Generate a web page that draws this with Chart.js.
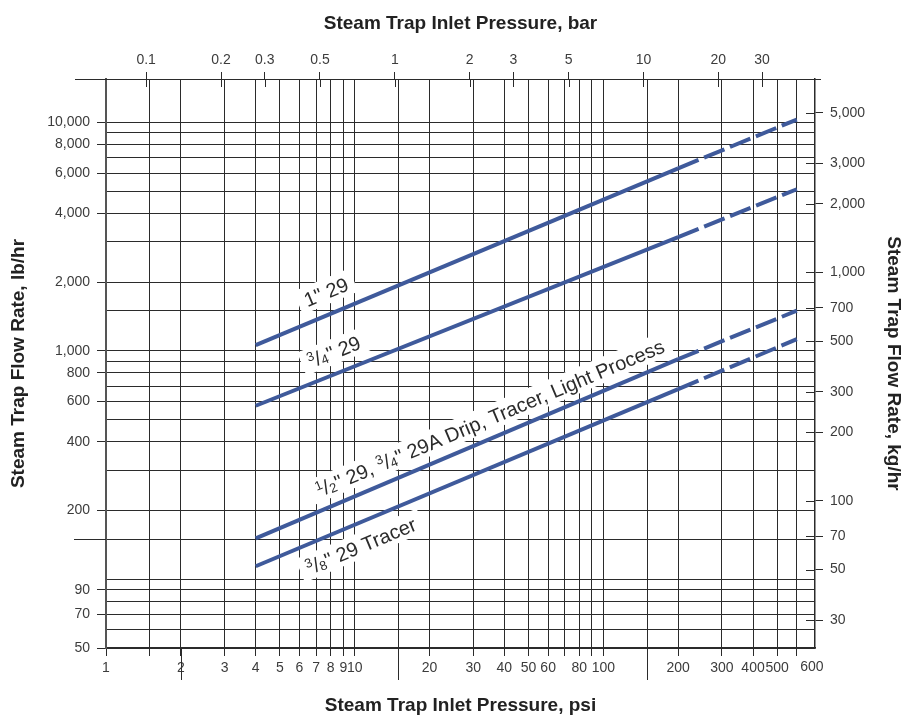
<!DOCTYPE html>
<html>
<head>
<meta charset="utf-8">
<script src="https://cdn.jsdelivr.net/npm/chart.js@4.4.1/dist/chart.umd.min.js"></script>
<style>
  body { margin: 0; background: #fff; }
</style>
</head>
<body>
<canvas id="chart" width="907" height="717"></canvas>
<script>
// flow capacity, at 4, 200 and 600 psi
const pressurePsi = [4, 200, 600];
const flow1in = [1060, 6300, 10300];
const flow34in = [575, 3150, 5100];
const flow12in = [151, 920, 1500];
const flow38in = [114, 680, 1125];

// axis ticks
const psiTicks = [1, 1.5, 2, 3, 4, 5, 6, 7, 8, 9, 10, 15, 20, 30, 40, 50, 60, 70, 80, 90, 100, 150, 200, 300, 400, 500, 600];
const psiLabels = [1, 2, 3, 4, 5, 6, 7, 8, 9, 10, 20, 30, 40, 50, 60, 80, 100, 200, 300, 400, 500];
const psiLast = 600; // drawn nudged right, as on the original
const psiLong = [2, 15, 150];
const barTicks = [0.1, 0.2, 0.3, 0.5, 1, 2, 3, 5, 10, 20, 30];
const lbTicks = [50, 60, 70, 80, 90, 100, 150, 200, 300, 400, 500, 600, 700, 800, 900, 1000, 1500, 2000, 3000, 4000, 5000, 6000, 7000, 8000, 9000, 10000];
const lbLabels = [50, 70, 90, 200, 400, 600, 800, 1000, 2000, 4000, 6000, 8000, 10000];
const lbLong = [150];
const kgTicks = [30, 50, 70, 100, 200, 300, 500, 700, 1000, 2000, 3000, 5000];

const PSI_PER_BAR = 14.5038;
const LB_PER_KG = 2.20462;
const psiMin = 1, psiMax = 710;
const lbMin = 50, lbMax = 15500;

const blue = '#3f5a9b';
const ink = '#2b2b2b';
const tickInk = '#3c3c3c';
const FONT = '"Liberation Sans", Arial, sans-serif';

// text on the lines; 'n' / 'd' = small numerator / denominator
const lineLabels = [
  { series: 0, at: [7.67, 1810], parts: [['1" 29']] },
  { series: 1, at: [8.26, 990], parts: [['3', 'n'], ['/'], ['4', 'd'], ['" 29']] },
  { series: 2, at: [35, 508], parts: [['1', 'n'], ['/'], ['2', 'd'], ['" 29, '], ['3', 'n'], ['/'], ['4', 'd'], ['" 29A Drip, Tracer, Light Process']] },
  { series: 3, at: [10.6, 140], parts: [['3', 'n'], ['/'], ['8', 'd'], ['" 29 Tracer']] }
];

function series(values) {
  return {
    data: pressurePsi.map((p, i) => ({ x: p, y: values[i] })),
    borderColor: blue,
    borderWidth: 4,
    borderCapStyle: 'butt',
    pointRadius: 0,
    segment: {
      borderDash: c => (c.p0DataIndex >= 1 ? [22, 6] : undefined)
    }
  };
}

function fixTicks(list) {
  return s => { s.ticks = list.map(v => ({ value: v })); };
}

function comma(v) {
  return Number(v).toLocaleString('en-US');
}

const labelPlugin = {
  id: 'lineLabels',
  beforeDatasetsDraw(chart) {
    const { ctx, scales: { x, y } } = chart;
    lineLabels.forEach(l => {
      const d = chart.data.datasets[l.series].data;
      const a = d[0], b = d[d.length - 1];
      const ang = Math.atan2(y.getPixelForValue(b.y) - y.getPixelForValue(a.y),
                             x.getPixelForValue(b.x) - x.getPixelForValue(a.x));
      const cx = x.getPixelForValue(l.at[0]);
      const cy = y.getPixelForValue(l.at[1]);
      const big = '20px ' + FONT, small = '13px ' + FONT;
      ctx.save();
      let w = 0;
      const widths = l.parts.map(p => {
        ctx.font = p[1] ? small : big;
        const m = ctx.measureText(p[0]).width;
        w += m;
        return m;
      });
      ctx.translate(cx, cy);
      ctx.rotate(ang);
      ctx.fillStyle = '#fff';
      ctx.fillRect(-w / 2 - 7, -13, w + 14, 25);
      ctx.fillStyle = ink;
      ctx.textBaseline = 'alphabetic';
      let px = -w / 2;
      l.parts.forEach((p, i) => {
        ctx.font = p[1] ? small : big;
        const base = p[1] === 'n' ? 0 : p[1] === 'd' ? 8 : 7;
        ctx.fillText(p[0], px, base);
        px += widths[i];
      });
      ctx.restore();
    });
  }
};

const axisPlugin = {
  id: 'axisMarks',
  afterDraw(chart) {
    const { ctx, chartArea: area, scales: { x, y, x2, y2 } } = chart;
    ctx.save();
    ctx.strokeStyle = ink;
    ctx.lineWidth = 1;
    ctx.beginPath();
    // top rule runs a little past the frame
    ctx.moveTo(75, area.top + 0.5);
    ctx.lineTo(821, area.top + 0.5);
    // long marks under the psi axis
    psiLong.forEach(v => {
      const px = Math.round(x.getPixelForValue(v)) + 0.5;
      ctx.moveTo(px, area.bottom);
      ctx.lineTo(px, area.bottom + 32);
    });
    lbLong.forEach(v => {
      const py = Math.round(y.getPixelForValue(v)) + 0.5;
      ctx.moveTo(74, py);
      ctx.lineTo(area.left, py);
    });
    // bar and kg/hr ticks cross the frame
    barTicks.forEach(v => {
      const px = Math.round(x2.getPixelForValue(v)) + 0.5;
      ctx.moveTo(px, area.top);
      ctx.lineTo(px, area.top + 8);
    });
    kgTicks.forEach(v => {
      const py = Math.round(y2.getPixelForValue(v)) + 0.5;
      ctx.moveTo(area.right - 9, py);
      ctx.lineTo(area.right, py);
    });
    ctx.stroke();
    // last psi label sits right of its tick
    ctx.fillStyle = tickInk;
    ctx.font = '14px ' + FONT;
    ctx.textAlign = 'center';
    ctx.textBaseline = 'top';
    ctx.fillText(String(psiLast), x.getPixelForValue(psiLast) + 15, area.bottom + 12);
    ctx.restore();
  }
};

const tickFont = { family: FONT, size: 14 };
const titleFont = { family: FONT, size: 19, weight: 'bold' };

new Chart(document.getElementById('chart'), {
  type: 'line',
  data: {
    datasets: [series(flow1in), series(flow34in), series(flow12in), series(flow38in)]
  },
  options: {
    responsive: false,
    animation: false,
    devicePixelRatio: 1,
    layout: { padding: 0 },
    plugins: {
      legend: { display: false },
      tooltip: { enabled: false }
    },
    scales: {
      x: {
        type: 'logarithmic',
        position: 'bottom',
        min: psiMin,
        max: psiMax,
        afterBuildTicks: fixTicks(psiTicks),
        afterFit: s => { s.height = 69; },
        ticks: {
          autoSkip: false,
          maxRotation: 0,
          padding: 4,
          color: tickInk,
          font: tickFont,
          callback: v => (psiLabels.includes(v) ? String(v) : '')
        },
        grid: { color: ink, lineWidth: 1, tickLength: 8, tickColor: ink },
        border: { color: ink, width: 1.5 },
        title: {
          display: true,
          text: 'Steam Trap Inlet Pressure, psi',
          color: '#222',
          font: titleFont,
          padding: { top: 0, bottom: 0 }
        }
      },
      x2: {
        type: 'logarithmic',
        position: 'top',
        min: psiMin / PSI_PER_BAR,
        max: psiMax / PSI_PER_BAR,
        afterBuildTicks: fixTicks(barTicks),
        afterFit: s => { s.height = 79; },
        ticks: {
          autoSkip: false,
          maxRotation: 0,
          padding: 3,
          color: tickInk,
          font: tickFont,
          callback: v => String(v)
        },
        grid: { drawOnChartArea: false, tickLength: 7, tickColor: ink },
        border: { color: ink, width: 1 },
        title: {
          display: true,
          text: 'Steam Trap Inlet Pressure, bar',
          color: '#222',
          font: titleFont,
          padding: { top: 12, bottom: 0 }
        }
      },
      y: {
        type: 'logarithmic',
        position: 'left',
        min: lbMin,
        max: lbMax,
        afterBuildTicks: fixTicks(lbTicks),
        afterFit: s => { s.width = 106; },
        ticks: {
          autoSkip: false,
          padding: 7,
          color: tickInk,
          font: tickFont,
          callback: v => (lbLabels.includes(v) ? comma(v) : '')
        },
        grid: {
          color: ink,
          lineWidth: 1,
          tickLength: 9,
          tickColor: c => (c.tick && lbLabels.includes(c.tick.value) ? ink : 'rgba(0,0,0,0)')
        },
        border: { color: '#555', width: 2 },
        title: {
          display: true,
          text: 'Steam Trap Flow Rate, lb/hr',
          color: '#222',
          font: titleFont,
          padding: { top: 7, bottom: 0 }
        }
      },
      y2: {
        type: 'logarithmic',
        position: 'right',
        min: lbMin / LB_PER_KG,
        max: lbMax / LB_PER_KG,
        afterBuildTicks: fixTicks(kgTicks),
        afterFit: s => { s.width = 92; },
        ticks: {
          autoSkip: false,
          padding: 7,
          color: tickInk,
          font: tickFont,
          callback: v => comma(v)
        },
        grid: { drawOnChartArea: false, tickLength: 8, tickColor: ink },
        border: { color: ink, width: 1.5 },
        title: {
          display: true,
          text: 'Steam Trap Flow Rate, kg/hr',
          color: '#222',
          font: titleFont,
          padding: { top: 2, bottom: 0 }
        }
      }
    }
  },
  plugins: [labelPlugin, axisPlugin]
});
</script>
</body>
</html>
